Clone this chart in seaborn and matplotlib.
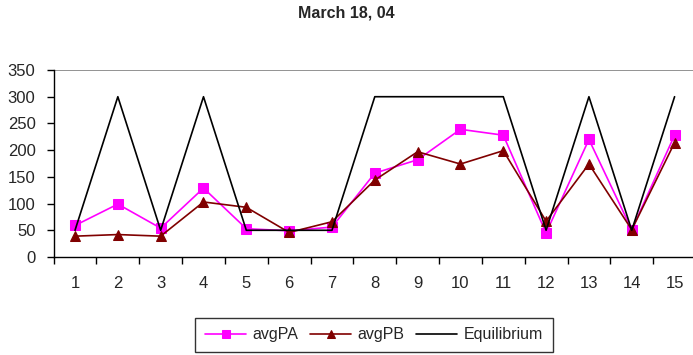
import numpy as np
import pandas as pd
import seaborn as sns
import matplotlib.pyplot as plt
from matplotlib.ticker import FixedLocator

# DADOS
rounds = list(range(1, 16))
avg_pa = [59, 99, 54, 129, 53, 49, 56, 157, 182, 239, 228, 45, 220, 51, 228]
avg_pb = [39, 42, 39, 103, 93, 46, 66, 144, 197, 174, 199, 67, 174, 51, 214]
equilibrium = [50, 300, 50, 300, 50, 50, 50, 300, 300, 300, 300, 50, 300, 50, 300]
titulo = "March 18, 04"

sns.set_theme(style="white")
plt.rcParams['font.family'] = ['Liberation Sans', 'DejaVu Sans']

fig = plt.figure(figsize=(6.93, 3.55), dpi=100)
ax = fig.add_axes([53.6 / 693, (355 - 257) / 355, (696 - 53.6) / 693, 187 / 355])

sns.lineplot(x=rounds, y=avg_pa, ax=ax, color='#ff00ff', marker='s', markersize=7,
             markeredgecolor='#ff00ff', linewidth=1.2, label='avgPA')
sns.lineplot(x=rounds, y=avg_pb, ax=ax, color='#800000', marker='^', markersize=7.5,
             markeredgecolor='#800000', linewidth=1.2, label='avgPB')
sns.lineplot(x=rounds, y=equilibrium, ax=ax, color='black', linewidth=1.2, label='Equilibrium')

ax.set_xlim(0.5, 15.5)
ax.set_ylim(0, 350)
ax.set_xlabel('')
ax.set_ylabel('')
ax.axhline(350, color='#808080', linewidth=1.2, zorder=0)

for s in ['top', 'right']:
    ax.spines[s].set_visible(False)
for s in ['left', 'bottom']:
    ax.spines[s].set_color('black')
    ax.spines[s].set_linewidth(1)

ax.set_yticks(np.arange(0, 351, 50))
ax.tick_params(axis='y', direction='out', length=5, width=1, color='black',
               left=True, labelsize=12, pad=8)
# ticks nas fronteiras, rótulos no centro
ax.xaxis.set_major_locator(FixedLocator(np.arange(0.5, 15.6, 1)))
ax.xaxis.set_minor_locator(FixedLocator(rounds))
ax.xaxis.set_major_formatter(plt.NullFormatter())
ax.set_xticklabels([str(r) for r in rounds], minor=True)
ax.tick_params(axis='x', which='major', direction='out', length=5, width=1,
               color='black', bottom=True)
ax.tick_params(axis='x', which='minor', length=0, labelsize=12, pad=14)

fig.text(0.5, 1 - 13 / 355, titulo, ha='center', va='center', fontsize=11.5,
         fontweight='bold')

leg = ax.legend(loc='center', bbox_to_anchor=(374 / 693, 1 - 335 / 355),
                bbox_transform=fig.transFigure, ncol=3, frameon=True,
                fancybox=False, edgecolor='black', fontsize=11.5,
                handlelength=2.6, columnspacing=0.7, handletextpad=0.4,
                borderpad=0.6, markerscale=0.8)
leg.get_frame().set_linewidth(1)

fig.savefig('out.png', dpi=100)
